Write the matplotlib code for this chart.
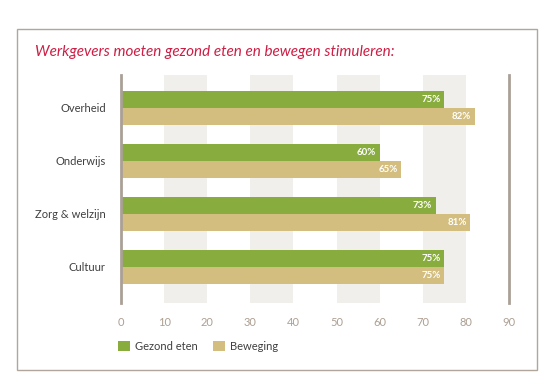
import matplotlib
matplotlib.use("Agg")
import matplotlib.pyplot as plt
from matplotlib.patches import Rectangle
import numpy as np

categories = ["Overheid", "Onderwijs", "Zorg & welzijn", "Cultuur"]
gezond_eten = [75, 60, 73, 75]
beweging = [82, 65, 81, 75]
series_names = ["Gezond eten", "Beweging"]
xticks = [0, 10, 20, 30, 40, 50, 60, 70, 80, 90]
title = "Werkgevers moeten gezond eten en bewegen stimuleren:"

GREEN = "#88ad3e"
TAN = "#d3be7f"
BAND = "#f0efeb"
AXC = "#aaa097"
TXT = "#3f3f3f"

plt.rcParams['font.family'] = ['Lato', 'DejaVu Sans']

fig = plt.figure(figsize=(5.51, 3.86), dpi=100)
fig.patch.set_facecolor("white")

# outer frame
fig.patches.append(Rectangle((16.5/551, 1-370/386), (536.5-16.5)/551, (370-29)/386,
                             transform=fig.transFigure, fill=False,
                             edgecolor="#b0a69b", lw=1.0))

ax = fig.add_axes([121/551, 1-303/386, 388/551, 228/386])
ax.set_xlim(0, 90)
y = np.arange(len(categories))
ax.set_ylim(3.68, -0.62)

for a in range(10, 90, 20):
    ax.axvspan(a, a+10, color=BAND, lw=0, zorder=0)

h = 0.32
b1 = ax.barh(y - h/2, gezond_eten, height=h, color=GREEN, zorder=2, label=series_names[0])
b2 = ax.barh(y + h/2, beweging, height=h, color=TAN, zorder=2, label=series_names[1])

for bars, vals in ((b1, gezond_eten), (b2, beweging)):
    for rect, v in zip(bars, vals):
        ax.text(v - 0.8, rect.get_y() + rect.get_height()/2, f"{v}%",
                ha="right", va="center", color="white", fontsize=7,
                fontweight="bold", zorder=3)

for s in ["top", "bottom"]:
    ax.spines[s].set_visible(False)
for s in ["left", "right"]:
    ax.spines[s].set_color(AXC)
    ax.spines[s].set_linewidth(2)

ax.set_yticks(y)
ax.set_yticklabels(categories, fontsize=8, color=TXT)
ax.tick_params(axis="y", length=0, pad=11)
ax.set_xticks(xticks)
ax.set_xticklabels([str(t) for t in xticks], fontsize=8, color="#ad9f92")
ax.tick_params(axis="x", length=0, pad=10)

fig.text(35/551, 1-52/386, title, color="#cc1f45", fontsize=11, style="italic",
         va="center", ha="left")

# legend
leg = fig.legend(handles=[b1, b2], labels=series_names, loc="lower left",
                 bbox_to_anchor=(114/551, 1-356/386), ncol=2, frameon=False,
                 fontsize=8, handlelength=1.0, handleheight=1.0,
                 columnspacing=1.4, handletextpad=0.5, borderaxespad=0)
for t in leg.get_texts():
    t.set_color(TXT)

fig.savefig("out.png", dpi=100)
